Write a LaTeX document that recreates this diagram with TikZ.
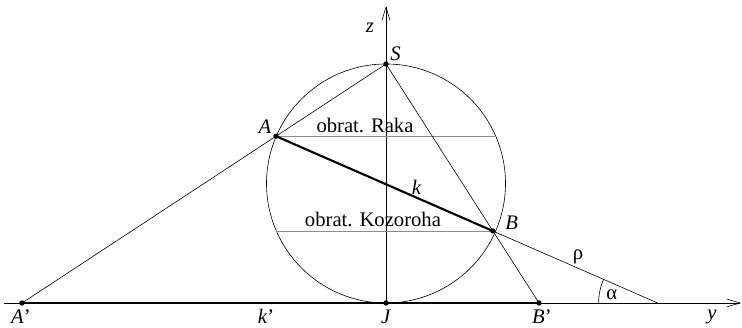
\documentclass[tikz,border=0pt]{standalone}
\usepackage{fontspec}
\setmainfont{Liberation Serif}
\usetikzlibrary{arrows.meta}

\begin{document}
\begin{tikzpicture}[
    x=0.75pt, y=0.75pt,
    >={Straight Barb[length=10pt, width=6pt]},
    line/.style  = {line width=0.45pt},
    bold/.style  = {line width=1.6pt},
    chord/.style = {line width=0.6pt, black!45},
    point/.style = {circle, fill, inner sep=0pt, minimum size=4pt},
    lbl/.style   = {font=\fontsize{15.5}{18}\selectfont, inner sep=0pt}
]
\useasboundingbox (-386,-25) rectangle (356,303);

% Axes and the celestial sphere
\coordinate (J) at (0,0);
\coordinate (S) at (0,239);
\coordinate (C) at (0,119.5);
\coordinate (ystart) at (-382,0);
\coordinate (yend) at (355,0);
\coordinate (zend) at (0,297);
\draw[line, ->] (ystart) -- (yend);
\draw[line, ->] (J) -- (zend);
\draw[line] (C) circle[radius=119.5];

% Tropics
\coordinate (A) at (-110,166.8);
\coordinate (Rk) at (109.7,166.8);
\coordinate (B) at (106.9,72);
\coordinate (Kz) at (-109.7,72);
\draw[chord] (A) -- (Rk);
\draw[chord] (Kz) -- (B);

% Projection from S
\coordinate (Ap) at (-364,0);
\coordinate (Bp) at (153,0);
\draw[line] (Ap) -- (S) -- (Bp);
\coordinate (P) at (intersection of A--B and Ap--Bp);
\draw[line] (B) -- (P);
\draw[bold] (A) -- (B);
\draw[bold] (Ap) -- (Bp);
\draw[line] (P) ++(180:59) arc[start angle=180, end angle=156.4, radius=59];

\foreach \p in {S, A, B, Ap, J, Bp}
    \node[point] (dot\p) at (\p) {};

% Labels
\node[lbl] (lz)  at (-16,275)   {\textit{z}};
\node[lbl] (lS)  at (9.5,249)   {\textit{S}};
\node[lbl] (lA)  at (-121,176)  {\textit{A}};
\node[lbl] (lB)  at (125.7,80)  {\textit{B}};
\node[lbl] (lk)  at (30.7,116)  {\textit{k}};
\node[lbl] (lrho)   at (192,46)  {ρ};
\node[lbl] (lalpha) at (225.7,8) {α};
\node[lbl] (lAp) at (-365,-13.5)  {\textit{A}’};
\node[lbl] (lkp) at (-120,-13.5)  {\textit{k}’};
\node[lbl] (lJ)  at (0,-13.5)     {\textit{J}};
\node[lbl] (lBp) at (156,-13.5)   {\textit{B}’};
\node[lbl] (ly)  at (326,-13.5)   {\textit{y}};
\node[lbl, anchor=base] (lRaka) at (-21,170) {obrat. Raka};
\node[lbl, anchor=base] (lKoz)  at (-13,76)  {obrat. Kozoroha};

\end{tikzpicture}
\end{document}
